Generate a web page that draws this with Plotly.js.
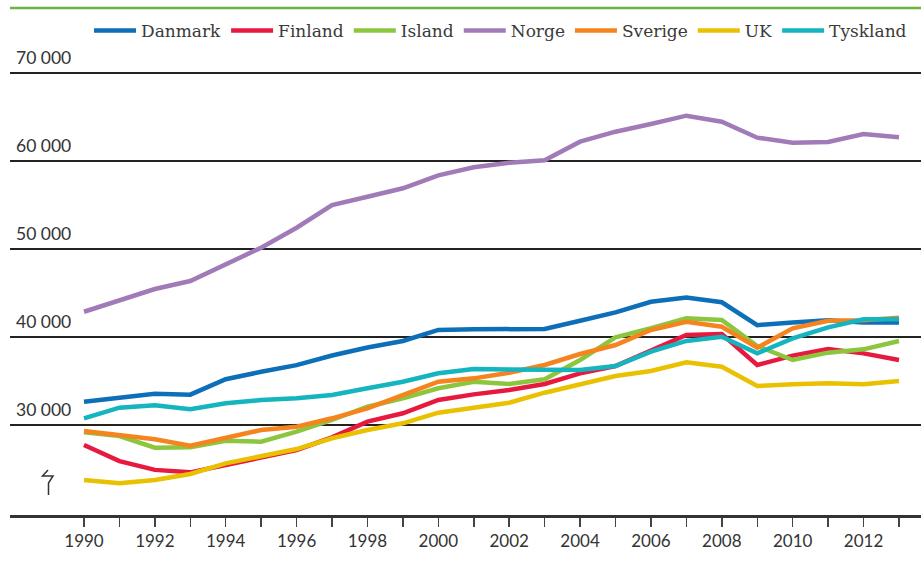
<!DOCTYPE html>
<html>
<head>
<meta charset="utf-8">
<script src="https://cdn.plot.ly/plotly-3.0.1.min.js"></script>
<style>
  html, body { margin: 0; padding: 0; background: #ffffff; }
  #chart { width: 921px; height: 567px; }
</style>
</head>
<body>
<div id="chart"></div>
<script>
const years = [1990,1991,1992,1993,1994,1995,1996,1997,1998,1999,2000,2001,2002,2003,2004,2005,2006,2007,2008,2009,2010,2011,2012,2013];

const danmark  = [32650,33100,33550,33450,35200,36050,36800,37900,38800,39550,40800,40870,40950,40920,41850,42800,44000,44500,43950,41350,41650,41900,41650,41650];
const finland  = [27730,25900,24900,24620,25450,26250,27160,28600,30380,31330,32840,33480,33980,34660,35870,36700,38520,40230,40340,36820,37880,38640,38140,37390];
const island   = [29170,28750,27420,27460,28210,28100,29240,30570,32080,33030,34170,34920,34660,35190,37390,39960,40990,42120,41930,38980,37390,38220,38600,39550];
const norge    = [42870,44200,45450,46360,48260,50150,52420,55000,55940,56900,58370,59280,59810,60080,62200,63330,64200,65150,64470,62650,62080,62160,63070,62690];
const sverige  = [29320,28860,28370,27650,28600,29430,29810,30760,31890,33410,34920,35300,35940,36820,38070,39090,40800,41740,41170,38780,40990,41850,41900,42200];
const uk       = [23750,23370,23750,24430,25640,26480,27270,28490,29430,30190,31400,31970,32530,33670,34660,35570,36140,37120,36620,34430,34620,34740,34620,35000];
const tyskland = [30760,31970,32240,31780,32460,32840,33030,33410,34170,34920,35870,36360,36320,36250,36250,36700,38330,39550,40030,38140,39850,41100,42010,42010];

const seriesNames  = ["Danmark","Finland","Island","Norge","Sverige","UK","Tyskland"];
const seriesValues = [danmark, finland, island, norge, sverige, uk, tyskland];
const seriesColors = ["#0d6fb8","#e8193e","#8cc63f","#a07bb8","#f5841f","#e9c100","#14b5bf"];

const yTickVals = [30000,40000,50000,60000,70000];
const yTickText = ["30 000","40 000","50 000","60 000","70 000"];
const xTickText = years.map(y => (y % 2 === 0 ? String(y) : ""));

const traces = seriesNames.map((name, i) => ({
  type: "scatter",
  mode: "lines",
  name: name,
  x: years,
  y: seriesValues[i],
  line: { color: seriesColors[i], width: 4.5 },
  hoverinfo: "skip"
}));

const W = 921, H = 567;
const mL = 10, mR = 0, mT = 8, mB = 52;
const plotW = W - mL - mR;

const annotations = yTickVals.map((v, i) => ({
  xref: "paper", yref: "y",
  x: (14 - mL) / plotW, y: v,
  xanchor: "left", yanchor: "bottom",
  yshift: 3,
  text: yTickText[i],
  showarrow: false,
  font: { family: "Lato, 'Open Sans', sans-serif", size: 17.5, color: "#333333" }
}));

const layout = {
  width: W, height: H,
  margin: { l: mL, r: mR, t: mT, b: mB },
  paper_bgcolor: "#ffffff",
  plot_bgcolor: "#ffffff",
  showlegend: true,
  legend: {
    orientation: "h",
    x: (89 - mL) / plotW, xanchor: "left",
    y: (515 - 31) / 507, yanchor: "middle",
    bgcolor: "rgba(0,0,0,0)",
    itemwidth: 42,
    font: { family: "'DejaVu Serif', serif", size: 17, color: "#3a3a3a" },
    tracegroupgap: 0
  },
  xaxis: {
    range: [1987.912, 2013.621],
    tickmode: "array",
    tickvals: years,
    ticktext: xTickText,
    ticks: "outside",
    ticklen: 9,
    tickwidth: 1.5,
    tickcolor: "#444444",
    showline: true,
    linecolor: "#333333",
    linewidth: 3,
    showgrid: false,
    zeroline: false,
    tickfont: { family: "Lato, 'Open Sans', sans-serif", size: 17, color: "#333333" },
    fixedrange: true
  },
  yaxis: {
    range: [19773, 77386],
    tickmode: "array",
    tickvals: yTickVals,
    showticklabels: false,
    ticks: "",
    showgrid: true,
    gridcolor: "#222222",
    gridwidth: 1.3,
    zeroline: false,
    showline: false,
    fixedrange: true
  },
  shapes: [
    {
      type: "line", xref: "paper", yref: "paper",
      x0: 0, x1: 1, y0: 1, y1: 1,
      line: { color: "#6db33f", width: 2.5 }
    },
    {
      type: "path", xref: "paper", yref: "paper",
      path: (function () {
        const px = x => ((x - mL) / plotW).toFixed(5);
        const py = y => ((H - mB - y) / (H - mT - mB)).toFixed(5);
        return "M " + px(48) + "," + py(470) +
               " L " + px(42.5) + "," + py(476) +
               " L " + px(53) + "," + py(476) +
               " L " + px(48.5) + "," + py(483) +
               " L " + px(48.5) + "," + py(495);
      })(),
      line: { color: "#333333", width: 1.5 }
    }
  ],
  annotations: annotations
};

Plotly.newPlot("chart", traces, layout, { displayModeBar: false, staticPlot: true });
</script>
</body>
</html>
